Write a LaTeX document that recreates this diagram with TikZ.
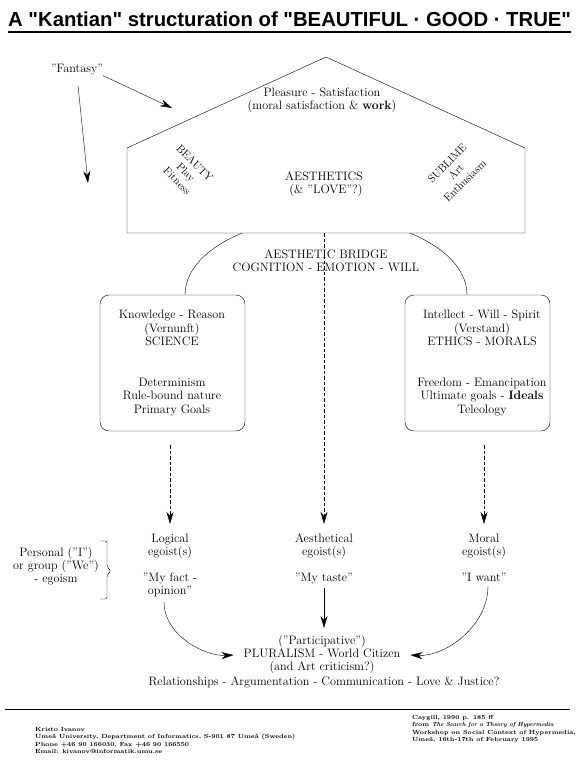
\documentclass[tikz,border=0pt]{standalone}
\usepackage{fontspec}
\newfontfamily\titlefont{Liberation Sans}
\usetikzlibrary{arrows.meta}
\begin{document}
\begin{tikzpicture}[x=1pt,y=-1pt,
 txt/.style={font=\fontsize{12.2}{13.2}\selectfont, align=center, inner sep=0pt},
 rtxt/.style={font=\fontsize{11}{12.5}\selectfont, align=center, inner sep=0pt},
 arr/.style={-{Stealth[length=12pt,width=7pt,inset=4pt]}},
 dline/.style={dash pattern=on 3.5pt off 2pt},
 bx/.style={draw, rounded corners=9pt, minimum width=145pt, minimum height=136pt, inner sep=0pt},
 foot/.style={font=\fontsize{6}{7.4}\selectfont\bfseries, align=left, inner sep=0pt, anchor=north west}
]
\useasboundingbox (0,0) rectangle (588,768);
% title
\node[anchor=base west, inner sep=0pt, font=\titlefont\bfseries\fontsize{20.3}{23}\selectfont] (title) at (8,27) {A "Kantian" structuration of "BEAUTIFUL · GOOD · TRUE"};
\draw[line width=1.3pt] ([yshift=-5pt]title.base west) -- ([yshift=-5pt]title.base east);
% bridge arc
\draw (185,295) arc[start angle=180, end angle=0, x radius=141pt, y radius=77pt];
% house
\draw[fill=white] (127,233) -- (127,148) -- (326,57) -- (525,148) -- (525,233) -- cycle;
\coordinate (houseb) at (326,233);
\node[txt] (pleas) at (322,100) {Pleasure - Satisfaction\\(moral satisfaction \& \textbf{work})};
\node[txt] (aesth) at (324,184) {AESTHETICS\\\ (\& "LOVE"?)};
\node[rtxt, rotate=-45] (beauty) at (186,172) {BEAUTY\\Play\\Fitness};
\node[rtxt, rotate=45] (sublime) at (456,172) {SUBLIME\\Art\\Enthusiasm};
% fantasy
\node[txt] (fant) at (77,70) {"Fantasy"};
\coordinate (fan1) at (172,108);
\coordinate (fan2) at (88,183);
\draw[arr] (fant.south east) -- (fan1);
\draw[arr, shorten <=10pt] (fant.south) -- (fan2);
% bridge text
\node[txt] (bridge) at (326,261) {AESTHETIC BRIDGE\\COGNITION - EMOTION - WILL};
% boxes
\node[bx] (lbox) at (172.5,363) {};
\node[bx] (rbox) at (477.5,363) {};
\node[txt] (lt) at (172,328) {Knowledge - Reason\\(Vernunft)\\SCIENCE};
\node[txt] (lb) at (172,397) {Determinism\\Rule-bound nature\\Primary Goals};
\node[txt] (rt) at (482,328) {Intellect - Will - Spirit\\(Verstand)\\ETHICS - MORALS};
\node[txt] (rb) at (482,397) {Freedom - Emancipation\\Ultimate goals - \textbf{Ideals}\\Teleology};
% egoists
\node[txt] (log) at (170,546.5) {Logical\\egoist(s)};
\node[txt] (aes) at (324,546.5) {Aesthetical\\egoist(s)};
\node[txt] (mor) at (484,546.5) {Moral\\egoist(s)};
\node[txt, anchor=north] (logq) at (170,573) {"My fact -\\opinion"};
\node[txt, anchor=north] (aesq) at (324,573) {"My taste"};
\node[txt, anchor=north] (morq) at (484,573) {"I want"};
\draw[dline, arr, shorten <=14pt, shorten >=10pt] (lbox.south -| log.north) -- (log.north);
\draw[dline, arr, shorten <=14pt, shorten >=10pt] (rbox.south -| mor.north) -- (mor.north);
\draw[dline, arr, shorten >=10pt] (houseb -| aes.north) -- (aes.north);
% personal
\node[txt] (pers) at (56,566) {Personal ("I")\\or group ("We")\\- egoism};
\draw[rounded corners=2pt] (100,541) -- (107,541) -- (107,567) -- (111,571) -- (107,575) -- (107,599) -- (100,599);
% pluralism
\node[txt] (plur) at (322,654.5) {("Participative")\\PLURALISM - World Citizen\\(and Art criticism?)};
\node[txt] (rel) at (324,682) {Relationships - Argumentation - Communication - Love \& Justice?};
\draw[arr, shorten <=4pt, shorten >=7pt] (aesq.south) -- (plur.north -| aesq.south);
\draw[arr, shorten <=4pt, shorten >=10pt] ([xshift=-6pt]logq.south) to[out=-90, in=183] (plur.west);
\draw[arr, shorten <=4pt, shorten >=10pt] ([xshift=4pt]morq.south) to[out=-90, in=-3] (plur.east);
% footer
\draw (5,709) -- (570,709);
\node[foot] (fl) at (35,727) {Kristo Ivanov\\Umeå University, Department of Informatics, S-901 87 Umeå (Sweden)\\Phone +46 90 166030, Fax +46 90 166550\\Email: kivanov@informatik.umu.se};
\node[foot] (fr) at (412,715) {Caygill, 1990 p. 185 ff\\from \textit{The Search for a Theory of Hypermedia}\\Workshop on Social Context of Hypermedia,\\Umeå, 16th-17th of February 1995};
\end{tikzpicture}
\end{document}
